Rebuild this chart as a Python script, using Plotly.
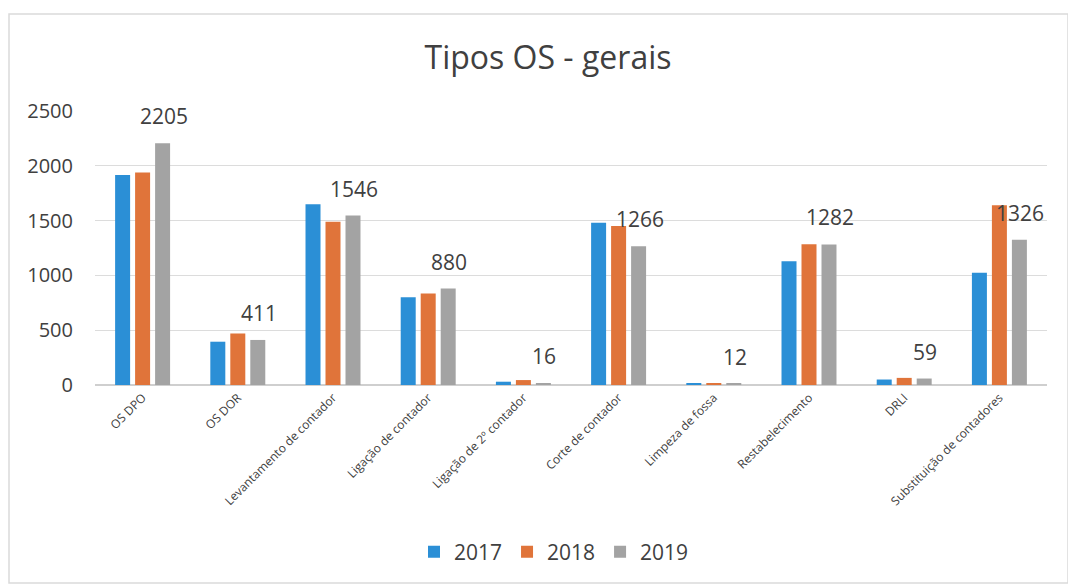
import plotly.graph_objects as go

categories = ["OS DPO", "OS DOR", "Levantamento de contador", "Ligação de contador",
              "Ligação de 2º contador", "Corte de contador", "Limpeza de fossa",
              "Restabelecimento", "DRLI", "Substituição de contadores"]
years = ["2017", "2018", "2019"]
v2017 = [1915, 395, 1650, 800, 30, 1480, 12, 1130, 50, 1025]
v2018 = [1940, 470, 1490, 835, 45, 1450, 15, 1285, 65, 1640]
v2019 = [2205, 411, 1546, 880, 16, 1266, 12, 1282, 59, 1326]
colors = ["#2B8FD6", "#E0743A", "#A3A3A3"]

FONT = "Open Sans, Liberation Sans, Arial"

fig = go.Figure()
for name, vals, col in zip(years, [v2017, v2018, v2019], colors):
    fig.add_trace(go.Bar(name=name, x=categories, y=vals, marker_color=col,
                         marker_line_width=0))

for c, v in zip(categories, v2019):
    fig.add_annotation(x=c, y=v, text=str(v), showarrow=False, xshift=21, yshift=27,
                       font=dict(size=21, color="#404040", family=FONT))

# page body has an 8px margin; figure coordinates are screen coordinates minus 8
OFF = 8
W, H = 1076 - OFF, 586 - OFF
L, T = 95 - OFF, 111 - OFF
R = W - (1047 - OFF)
B = H - (385 - OFF)
pw, ph = W - L - R, H - T - B
def px(x):
    return (x - OFF - L) / pw
def py(y):
    return (H - B - (y - OFF)) / ph

fig.add_shape(type="rect", xref="paper", yref="paper", x0=px(9), x1=px(1068), y0=py(583), y1=py(14),
              line=dict(color="#dadada", width=1.5), fillcolor="rgba(0,0,0,0)")

fig.update_layout(
    width=W, height=H,
    paper_bgcolor="white", plot_bgcolor="white",
    margin=dict(l=L, r=R, t=T, b=B, autoexpand=False),
    barmode="group", bargap=0.37, bargroupgap=0.25,
    title=dict(text="Tipos OS - gerais", x=(548 - OFF) / W, xanchor="center",
               y=1 - (58 - OFF) / H, yanchor="middle",
               font=dict(size=32, color="#404040", family=FONT)),
    font=dict(family=FONT, color="#404040"),
    legend=dict(orientation="h", x=px(554), xanchor="center", y=py(552), yanchor="middle",
                font=dict(size=21, color="#404040", family=FONT), itemwidth=30),
    showlegend=True,
)
fig.update_yaxes(range=[0, 2500], dtick=500, showgrid=True, gridcolor="#dcdcdc",
                 zeroline=True, zerolinecolor="#cfcfcf", tickfont=dict(size=20, color="#404040"),
                 ticks="", ticklabelstandoff=21, automargin=False)
fig.update_xaxes(tickangle=-45, tickfont=dict(size=12, color="#404040"), showline=True,
                 linecolor="#cfcfcf", ticks="", automargin=False)

fig.write_html("out.html")
